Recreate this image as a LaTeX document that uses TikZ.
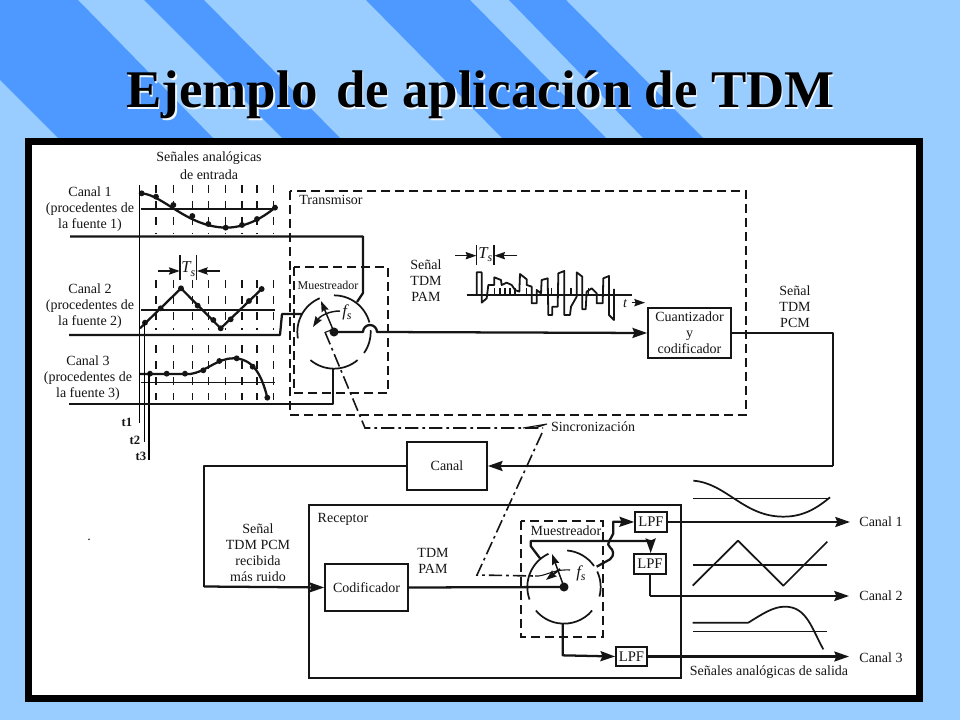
\documentclass[tikz,border=0pt]{standalone}
\usepackage{fontspec}
\setmainfont{Liberation Serif}
\usetikzlibrary{arrows.meta,calc}
\definecolor{bglight}{HTML}{99CCFF}
\definecolor{bgdark}{HTML}{4D99FF}
\definecolor{ink}{HTML}{151515}
\tikzset{
  zA/.style={shift={(30,145)},x=0.25pt,y=-0.25pt},
  zB/.style={shift={(400,180)},x=0.25pt,y=-0.25pt},
  zC/.style={shift={(190,470)},x=0.25pt,y=-0.25pt},
  zD/.style={shift={(500,470)},x=0.25pt,y=-0.25pt},
  zE/.style={shift={(465,240)},x=0.25pt,y=-0.25pt},
  lab/.style={font=\fontsize{10.5}{12}\selectfont,text=ink,inner sep=0pt,align=center},
  wire/.style={draw=ink,line width=1.7pt,line join=round},
  thin line/.style={draw=ink,line width=0.8pt},
  dashbox/.style={draw=ink,line width=1.2pt,dash pattern=on 7pt off 3.5pt},
  gridline/.style={draw=ink,line width=0.8pt,dash pattern=on 6pt off 6pt},
  syncline/.style={draw=ink,line width=1.2pt,dash pattern=on 10pt off 3pt on 2pt off 3pt},
  tip/.style={-{Stealth[length=11pt,width=7.5pt,inset=1.5pt]}},
  smalltip/.style={-{Stealth[length=8pt,width=5.5pt,inset=1pt]}},
  boxnode/.style={draw=ink,line width=1.3pt,fill=white,inner sep=0pt,align=center,
    font=\fontsize{10.5}{12}\selectfont,text=ink},
  dot/.style={fill=ink},
  ttl/.style={font=\fontsize{39.7}{44}\selectfont\bfseries,anchor=base,inner sep=0pt},
  sym/.style={font=\fontsize{12.5}{13}\selectfont\itshape,text=ink,inner sep=0pt},
}
\newcommand{\sarc}[4]{(#1) ++(#2:#4) arc[start angle=#2,end angle=#3,radius=#4]}
\newcommand{\titletext}{Ejemplo\hspace{0.1em} de aplicación de TDM}
\newcommand{\symsub}[2]{#1\raisebox{-2.5pt}{\fontsize{9}{9}\selectfont #2}}
\begin{document}
\begin{tikzpicture}[x=0.75pt,y=-0.75pt]
\useasboundingbox (0,0) rectangle (960,720);
% background
\fill[bglight] (0,0) rectangle (960,720);
\fill[bgdark] (0,80) -- (0,0) -- (78,0) -- (213,138) -- (58,138) -- cycle;
\fill[bgdark] (144,0) -- (204,0) -- (340,138) -- (282,138) -- cycle;
\fill[bgdark] (366,0) -- (470,0) -- (606,138) -- (502,138) -- cycle;
\fill[bgdark] (509,0) -- (566,0) -- (703,138) -- (643,138) -- cycle;
% panel
\fill[black] (25,138) rectangle (922.5,702);
\fill[white] (31.5,145) rectangle (916,695);
% title
\node[ttl,text=white!85!bglight] (titleshadow) at (481.8,109.6) {\titletext};
\node[ttl,text=black] (title) at (480.5,108) {\titletext};

% ---------- named points
\coordinate (muxA) at (334,332);
\coordinate (muxB) at (564,587);

% ---------- input signal grids
\begin{scope}[zA]
  \foreach \xx in {378,430,487,535,587,636,681,730}{
    \draw[gridline] (\xx,120) -- (\xx,265);
    \draw[gridline] (\xx,405) -- (\xx,555);
    \draw[gridline] (\xx,600) -- (\xx,765);
  }
  \draw[thin line] (332,192) -- (735,192);
  \draw[thin line] (332,495) -- (735,495);
  \draw[thin line] (332,712) -- (735,712);
  % channel 1
  \draw[wire] (335,145) .. controls (400,150) and (470,245) .. (587,248) .. controls (640,248) and (690,225) .. (735,188);
  \foreach \p in {(335,145),(378,155),(430,180),(487,213),(535,237),(587,248),(636,240),(681,222),(735,188)}
    \fill[dot] \p circle[radius=2.2pt];
  % channel 2
  \draw[wire] (330,550) -- (453,430) -- (572,550) -- (695,432);
  \foreach \p in {(345,533),(392,490),(453,430),(503,482),(550,525),(572,550),(602,523),(657,468),(695,432)}
    \fill[dot] \p circle[radius=2.2pt];
  % channel 3
  \draw[wire] (330,687) -- (480,687) .. controls (530,680) and (560,640) .. (610,640) .. controls (670,640) and (695,690) .. (712,758);
  \foreach \p in {(360,686),(410,686),(465,686),(520,676),(568,648),(620,640),(668,665),(712,758)}
    \fill[dot] \p circle[radius=2.2pt];
  % Ts marker
  \draw[thin line] (450,330) -- (450,405);
  \draw[thin line] (500,330) -- (500,405);
  \draw[thin line,smalltip] (385,378) -- (449,378);
  \draw[thin line,smalltip] (570,378) -- (501,378);
  \node[sym] (tsA) at (475,372) {\symsub{T}{s}};
  % sampling instants
  \draw[draw=black,line width=0.9pt] (329,120) -- (329,835);
  \draw[draw=black,line width=0.9pt] (343,530) -- (343,890);
  \draw[draw=black,line width=0.9pt] (357,682) -- (357,945);
\end{scope}
\node[lab,font=\fontsize{9.5}{11}\selectfont\bfseries] (tone) at (127,422) {t1};
\node[lab,font=\fontsize{9.5}{11}\selectfont\bfseries] (ttwo) at (135,440) {t2};
\node[lab,font=\fontsize{9.5}{11}\selectfont\bfseries] (tthree) at (141,456) {t3};

% ---------- labels left
\node[lab] (inlabel) at (209,166) {Señales analógicas\\[1.2pt]de entrada};
\node[lab] (canA) at (90,209) {Canal 1\\(procedentes de\\la fuente 1)};
\node[lab] (canB) at (90,306.5) {Canal 2\\(procedentes de\\la fuente 2)};
\node[lab] (canC) at (88,378) {Canal 3\\(procedentes de\\la fuente 3)};

% ---------- transmitter
\draw[dashbox] (290,191) rectangle (746,415);
\node[lab] (tx) at (331,200) {Transmisor};
\draw[dashbox] (294,267) rectangle (388,393);
\node[lab,font=\fontsize{9}{11}\selectfont] (muA) at (328,285) {Muestreador};
% sampler 1
\draw[wire,line width=1.3pt] \sarc{muxA}{90}{15}{27.5pt};
\draw[wire,line width=1.3pt] \sarc{muxA}{3}{-35}{27.5pt};
\draw[wire,line width=1.3pt] \sarc{muxA}{-50}{-130}{27.5pt};
\draw[wire,line width=1.3pt] \sarc{muxA}{190}{113}{27.5pt};
\fill[dot] (muxA) circle[radius=3.4pt];
\draw[thin line,smalltip,line width=1.1pt] (muxA) -- (321,301);
\draw[thin line,smalltip,line width=1.1pt] (340,311) .. controls (329,311) and (320,316) .. (313,327);
\node[sym] (fsA) at (347,312) {\symsub{f}{s}};
% input wires
\coordinate (inA) at (70,236.5);
\coordinate (inB) at (69,335);
\coordinate (inC) at (69,404);
\draw[wire] (inA) -- (363,236.5) -- (363,293) -- (357,302);
\draw[wire] (inB) -- (280,335) -- (282,314) -- (302,314);
\draw[wire] (inC) -- (333,404) -- (333,368);
% output of sampler
\node[boxnode,minimum width=62.25pt,minimum height=37.5pt] (quant) at (689.5,333) {Cuantizador\\y\\codificador};
\draw[wire,tip] (muxA) -- (363,332) arc[start angle=180,end angle=0,radius=5.25pt] -- (quant.west);
\node[lab] (pamlabel) at (426,280.5) {Señal\\TDM\\PAM};
\node[lab] (pcmlabel) at (795,306.5) {Señal\\TDM\\PCM};
% PAM waveform
\begin{scope}[zE]
  \draw[thin line] (5,165) -- (500,165);
  \foreach \xx in {88,105,120,135,150,185,260,318,370}
    \draw[thin line] (\xx,145) -- (\xx,165);
  \draw[draw=ink,line width=1.35pt,line join=round] (35,165) -- (35,97) -- (50,97) -- (50,188) -- (65,175) -- (70,135) -- (88,135) -- (88,112) -- (108,120) -- (110,135) -- (125,128) -- (140,135) -- (150,150) -- (163,155) -- (165,102) -- (185,118) -- (185,135) -- (200,140) -- (200,190) -- (215,190) -- (215,150) -- (228,160) -- (230,120) -- (248,115) -- (250,225) -- (262,225) -- (262,200) -- (278,200) -- (280,100) -- (298,93) -- (298,225) -- (315,225) -- (318,200) -- (335,170) -- (335,97) -- (352,110) -- (352,208) -- (362,208) -- (365,155) -- (380,145) -- (395,160) -- (395,190) -- (413,190) -- (415,115) -- (432,108) -- (432,225) -- (447,240) -- (447,147);
  \draw[thin line] (35,15) -- (35,75);
  \draw[thin line] (87,15) -- (87,75);
  \draw[thin line,smalltip] (-30,47) -- (34,47);
  \draw[thin line,smalltip] (157,47) -- (88,47);
  \node[sym] (tsB) at (61,43) {\symsub{T}{s}};
  \node[sym,font=\fontsize{10.5}{12}\selectfont\itshape] (tlabel) at (480,192) {t};
  \draw[thin line,smalltip] (500,188) -- (540,188);
\end{scope}

% ---------- sync
\coordinate (syncA) at (325,332);
\coordinate (syncB) at (365,428);
\coordinate (syncC) at (543,428);
\coordinate (syncD) at (542,433);
\coordinate (syncE) at (477,575);
\coordinate (syncF) at (535,576);
\draw[thin line] (331,330) -- (325,332.5);
\draw[syncline] (syncA) -- (syncB) -- (syncC);
\draw[thin line] (523,428) -- (547,424) -- (535,428);
\draw[syncline] (syncD) -- (syncE) -- (syncF);
\node[lab] (synclabel) at (593,427) {Sincronización};

% ---------- channel
\node[boxnode,minimum width=60pt,minimum height=36pt] (canal) at (447,466) {Canal};
\coordinate (outA) at (833,333);
\coordinate (outB) at (833,466);
\coordinate (backA) at (204,466);
\coordinate (backB) at (204,586.5);
\draw[wire] (quant.east) -- (outA) -- (outB);
\draw[wire,tip] (outB) -- (canal.east);
\draw[wire] (canal.west) -- (backA) -- (backB);

% ---------- receiver
\draw[draw=ink,line width=1.2pt] (309,505) rectangle (681,678);
\node[lab] (rx) at (343,519) {Receptor};
\node[boxnode,minimum width=62.25pt,minimum height=35.25pt] (decod) at (366.5,587.5) {Codificador};
\draw[wire,tip] (backB) -- (decod.west);
\node[lab] (rxin) at (258,553) {Señal\\TDM PCM\\recibida\\más ruido};
\node[lab] (rxpam) at (433,560.5) {TDM\\PAM};
\draw[dashbox] (521,521) rectangle (603,637);
\node[lab] (muB) at (566,531) {Muestreador};
% sampler 2
\draw[wire,line width=1.3pt] \sarc{muxB}{85}{35}{27.5pt};
\draw[wire,line width=1.3pt] \sarc{muxB}{25}{-15}{27.5pt};
\draw[wire,line width=1.3pt] \sarc{muxB}{-40}{-140}{27.5pt};
\draw[wire,line width=1.3pt] \sarc{muxB}{200}{115}{27.5pt};
\fill[dot] (muxB) circle[radius=3.4pt];
\draw[wire] (decod.east) -- (muxB);
\draw[thin line,smalltip,line width=1.1pt] (muxB) -- (552,554);
\draw[thin line,smalltip,line width=1.5pt] (560,569) -- (546,580);
\draw[thin line] (syncF) .. controls (545,577) and (552,569) .. (570,570);
\node[sym] (fsB) at (581,573) {\symsub{f}{s}};
% LPFs
\tikzset{lpf/.style={boxnode,font=\fontsize{11}{12}\selectfont,minimum width=24pt,minimum height=15pt}}
\node[lpf] (lpfa) at (651,522) {LPF};
\node[lpf] (lpfb) at (650,564) {LPF};
\node[lpf,minimum width=23.25pt,minimum height=14.25pt] (lpfc) at (631.5,656.5) {LPF};
\begin{scope}[zD]
  \draw[wire,tip] (290,290) -- (330,268) .. controls (345,255) and (340,240) .. (330,232) .. controls (315,222) and (335,205) .. (340,190) -- (340,155) -- (lpfa.west);
  \draw[wire,tip] (120,265) -- (92,228) -- (92,213) -- (452,213) -- (lpfb.north -| 452,0);
  \draw[wire,tip] (188,460) -- (188,556) -- (lpfc.west);
  \draw[wire] (lpfb.south -| 450,0) -- (450,377);
\end{scope}
\coordinate (outCa) at (850,522);
\coordinate (outCb) at (849,596);
\coordinate (outCc) at (849,656.5);
\coordinate (kneeB) at (650,596);
\draw[wire,tip] (lpfa.east) -- (outCa);
\draw[wire,tip] (kneeB) -- (outCb);
\draw[wire,tip] (lpfc.east) -- (outCc);
\node[lab] (outa) at (881,522) {Canal 1};
\node[lab] (outb) at (881,596) {Canal 2};
\node[lab] (outc) at (881,658) {Canal 3};
\node[lab] (outlabel) at (769,672) {Señales analógicas de salida};
% output waves
\begin{scope}[zD]
  \draw[thin line] (580,86) -- (990,86);
  \draw[thin line] (580,285) -- (982,285);
  \draw[thin line] (580,484) -- (982,484);
  \draw[wire,line width=1.3pt] (580,32) .. controls (680,40) and (730,140) .. (850,140) .. controls (910,140) and (950,115) .. (990,82);
  \draw[wire,line width=1.3pt] (578,347) -- (714,212) -- (850,347) -- (982,215);
  \draw[wire,line width=1.3pt] (578,458) -- (745,458) .. controls (790,430) and (820,410) .. (855,410) .. controls (920,410) and (935,475) .. (970,538);
\end{scope}
\node[lab] (stray) at (89,540) {.};
\end{tikzpicture}
\end{document}
